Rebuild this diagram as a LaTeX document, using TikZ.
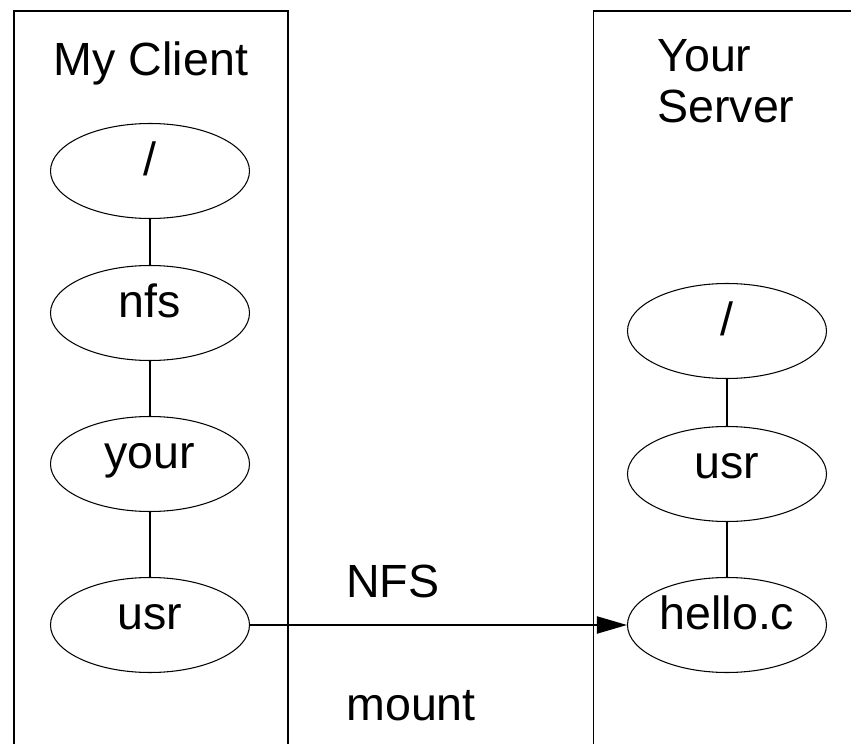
\documentclass[tikz,border=0pt]{standalone}
\usepackage{fontspec}
\setmainfont{Liberation Sans}
\usetikzlibrary{shapes.geometric, arrows.meta, positioning}

\begin{document}
\begin{tikzpicture}[font=\fontsize{26.5}{28.5}\selectfont, inner sep=0pt,
  dirnode/.style={ellipse, draw, line width=0.6pt, minimum width=3.98cm, minimum height=1.9cm,
    text height=0.7em, text depth=0.2em},
  hostline/.style={line width=1.1pt}]
\useasboundingbox (0,0) rectangle (17.02,14.88);

% Two machines, open at the bottom
\draw[hostline] (0.28,0) |- (5.76,14.66) -- (5.76,0);
\draw[hostline] (11.87,0) |- (17.3,14.66);

\node[anchor=base] (client) at (3.02,13.38) {My Client};
\node[anchor=base west, align=left] (server) at (13.14,12.44) {Your\\Server};

% Client tree
\node[dirnode] (cslash) at (3.0,11.46) {/};
\node[dirnode] (cnfs) at (3.0,8.62) {nfs};
\node[dirnode] (cyour) at (3.0,5.60) {your};
\node[dirnode] (cusr) at (3.0,2.38) {usr};
\draw[line width=0.8pt] (cslash) -- (cnfs) -- (cyour) -- (cusr);

% Server tree
\node[dirnode] (sslash) at (14.54,8.26) {/};
\node[dirnode] (susr) at (14.54,5.40) {usr};
\node[dirnode] (shello) at (14.54,2.38) {hello.c};
\draw[line width=0.8pt] (sslash) -- (susr) -- (shello);

% NFS mount
\draw[hostline, -{Triangle[length=0.6cm, width=0.34cm]}] (cusr) -- (shello);
\node[anchor=base west] (nfs) at (6.92,2.94) {NFS};
\node[anchor=base west] (mount) at (6.92,0.48) {mount};
\end{tikzpicture}
\end{document}
